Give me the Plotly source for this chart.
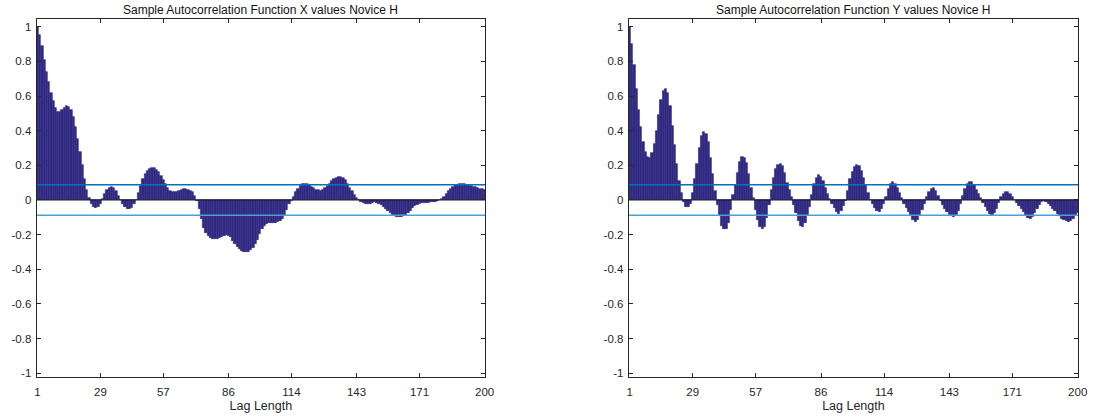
import plotly.graph_objects as go

acf_x = [
    1.00, 0.95, 0.89, 0.81, 0.74, 0.68, 0.62, 0.57, 0.53, 0.51,
    0.51, 0.52, 0.53, 0.54, 0.535, 0.52, 0.48, 0.42, 0.35, 0.28,
    0.20, 0.12, 0.06, 0.01, -0.02, -0.04, -0.045, -0.04, -0.02, 0.005,
    0.035, 0.06, 0.072, 0.075, 0.07, 0.05, 0.025, 0.002, -0.025, -0.04,
    -0.05, -0.052, -0.045, -0.025, 0.00, 0.04, 0.08, 0.12, 0.15, 0.17,
    0.18, 0.185, 0.183, 0.175, 0.16, 0.14, 0.115, 0.09, 0.07, 0.055,
    0.048, 0.045, 0.047, 0.053, 0.06, 0.065, 0.065, 0.06, 0.055, 0.045,
    0.025, -0.005, -0.05, -0.11, -0.16, -0.19, -0.21, -0.22, -0.225, -0.226,
    -0.225, -0.22, -0.213, -0.205, -0.20, -0.205, -0.215, -0.235, -0.255, -0.27,
    -0.285, -0.295, -0.30, -0.30, -0.298, -0.29, -0.275, -0.255, -0.23, -0.195,
    -0.17, -0.15, -0.14, -0.133, -0.13, -0.13, -0.13, -0.128, -0.122, -0.11,
    -0.085, -0.06, -0.025, -0.005, 0.02, 0.045, 0.065, 0.08, 0.09, 0.093,
    0.092, 0.087, 0.078, 0.068, 0.06, 0.056, 0.054, 0.058, 0.068, 0.08,
    0.095, 0.108, 0.12, 0.13, 0.134, 0.133, 0.125, 0.113, 0.095, 0.07,
    0.05, 0.03, 0.01, -0.002, -0.012, -0.018, -0.022, -0.023, -0.02, -0.015,
    -0.014, -0.015, -0.02, -0.028, -0.04, -0.05, -0.062, -0.075, -0.085, -0.093,
    -0.097, -0.10, -0.10, -0.095, -0.086, -0.075, -0.062, -0.048, -0.035, -0.027,
    -0.021, -0.019, -0.017, -0.016, -0.015, -0.013, -0.011, -0.009, -0.005, 0.0,
    0.008, 0.02, 0.033, 0.05, 0.065, 0.077, 0.084, 0.088, 0.09, 0.09,
    0.09, 0.088, 0.084, 0.08, 0.076, 0.073, 0.07, 0.066, 0.062, 0.058,
]

acf_y = [
    1.00, 0.90, 0.78, 0.64, 0.52, 0.42, 0.335, 0.28, 0.25, 0.245,
    0.27, 0.325, 0.40, 0.49, 0.575, 0.63, 0.64, 0.62, 0.54, 0.43,
    0.32, 0.21, 0.11, 0.04, -0.01, -0.04, -0.04, -0.02, 0.04, 0.12,
    0.21, 0.30, 0.37, 0.39, 0.38, 0.335, 0.245, 0.15, 0.055, -0.03,
    -0.095, -0.15, -0.17, -0.168, -0.135, -0.06, 0.03, 0.085, 0.155, 0.22,
    0.25, 0.245, 0.215, 0.15, 0.07, 0.01, -0.06, -0.115, -0.155, -0.17,
    -0.155, -0.105, -0.03, 0.06, 0.13, 0.18, 0.205, 0.21, 0.195, 0.155,
    0.10, 0.06, 0.02, -0.03, -0.075, -0.12, -0.15, -0.157, -0.13, -0.085,
    -0.04, 0.03, 0.095, 0.13, 0.143, 0.135, 0.11, 0.07, 0.035, 0.005,
    -0.02, -0.045, -0.068, -0.078, -0.065, -0.035, -0.005, 0.05, 0.12, 0.16,
    0.19, 0.20, 0.195, 0.17, 0.13, 0.085, 0.04, 0.0, -0.025, -0.048,
    -0.062, -0.067, -0.05, -0.02, 0.02, 0.065, 0.09, 0.105, 0.095, 0.07,
    0.04, 0.01, -0.02, -0.045, -0.07, -0.095, -0.115, -0.128, -0.115, -0.085,
    -0.055, -0.02, 0.02, 0.045, 0.062, 0.067, 0.055, 0.025, -0.005, -0.03,
    -0.05, -0.07, -0.085, -0.095, -0.097, -0.085, -0.065, -0.025, 0.025, 0.065,
    0.09, 0.103, 0.103, 0.085, 0.06, 0.035, 0.01, -0.015, -0.04, -0.065,
    -0.08, -0.086, -0.075, -0.05, -0.015, 0.015, 0.035, 0.045, 0.047, 0.035,
    0.02, 0.003, -0.015, -0.035, -0.05, -0.07, -0.09, -0.105, -0.112, -0.10,
    -0.075, -0.05, -0.03, -0.012, -0.008, -0.01, -0.02, -0.035, -0.05, -0.065,
    -0.08, -0.095, -0.107, -0.117, -0.123, -0.127, -0.122, -0.108, -0.09, -0.077,
]

lags_x = list(range(1, len(acf_x) + 1))
lags_y = list(range(1, len(acf_y) + 1))
conf_upper = 0.088
conf_lower = -0.088
x_tick_vals = [1, 29, 57, 86, 114, 143, 171, 200]
x_tick_text = ["1", "29", "57", "86", "114", "143", "171", "200"]
y_tick_vals = [-1, -0.8, -0.6, -0.4, -0.2, 0, 0.2, 0.4, 0.6, 0.8, 1]
y_tick_text = ["-1", "-0.8", "-0.6", "-0.4", "-0.2", "0", "0.2", "0.4", "0.6", "0.8", "1"]
titles = ["Sample Autocorrelation Function X values Novice H",
          "Sample Autocorrelation Function Y values Novice H"]
x_label = "Lag Length"

BAR = "#302A82"
FONT = "Liberation Sans, Arial, sans-serif"
TXT = "#262626"

fig = go.Figure()

panels = [(lags_x, acf_x, "x", "y"), (lags_y, acf_y, "x2", "y2")]
for lags, vals, xa, ya in panels:
    fig.add_trace(go.Bar(x=lags, y=vals, xaxis=xa, yaxis=ya,
                         marker=dict(color=BAR, line=dict(color=BAR, width=0.6)),
                         width=1.0, showlegend=False, hoverinfo="x+y"))
    xs = [0.6, 200.2]
    fig.add_trace(go.Scatter(x=xs, y=[0, 0], xaxis=xa, yaxis=ya, mode="lines",
                             line=dict(color="#1a1a1a", width=1), showlegend=False, hoverinfo="skip"))
    fig.add_trace(go.Scatter(x=xs, y=[conf_upper, conf_upper], xaxis=xa, yaxis=ya, mode="lines",
                             line=dict(color="#0072BD", width=1.4), showlegend=False, hoverinfo="skip"))
    fig.add_trace(go.Scatter(x=xs, y=[conf_lower, conf_lower], xaxis=xa, yaxis=ya, mode="lines",
                             line=dict(color="#4A9FD8", width=1.4), showlegend=False, hoverinfo="skip"))

xcommon = dict(range=[0.6, 200.2], tickmode="array", tickvals=x_tick_vals, ticktext=x_tick_text,
               ticks="inside", ticklen=4, tickcolor=TXT, showline=True, linecolor=TXT, linewidth=1,
               mirror="ticks", showgrid=False, zeroline=False, ticklabelstandoff=4,
               tickfont=dict(family=FONT, size=11.5, color=TXT),
               title=dict(text=x_label, font=dict(family=FONT, size=12.5, color=TXT), standoff=4))
ycommon = dict(range=[-1.023, 1.045], tickmode="array", tickvals=y_tick_vals, ticktext=y_tick_text,
               ticks="inside", ticklen=4, tickcolor=TXT, showline=True, linecolor=TXT, linewidth=1,
               mirror="ticks", showgrid=False, zeroline=False, ticklabelstandoff=2,
               tickfont=dict(family=FONT, size=11.5, color=TXT))

fig.update_layout(
    width=1100, height=418, margin=dict(l=0, r=0, t=0, b=0),
    paper_bgcolor="white", plot_bgcolor="white", bargap=0,
    xaxis=dict(domain=[0.0318, 0.4436], anchor="y", **xcommon),
    yaxis=dict(domain=[0.0933, 0.9545], anchor="x", **ycommon),
    xaxis2=dict(domain=[0.5755, 0.9882], anchor="y2", **xcommon),
    yaxis2=dict(domain=[0.0933, 0.9545], anchor="x2", **ycommon),
    annotations=[
        dict(text=titles[0], x=261 / 1100, y=1 - 10 / 418, xref="paper", yref="paper",
             showarrow=False, font=dict(family=FONT, size=12, color="#111"), xanchor="center", yanchor="middle"),
        dict(text=titles[1], x=860 / 1100, y=1 - 10 / 418, xref="paper", yref="paper",
             showarrow=False, font=dict(family=FONT, size=12, color="#111"), xanchor="center", yanchor="middle"),
    ],
)

fig.write_html("out.html")
